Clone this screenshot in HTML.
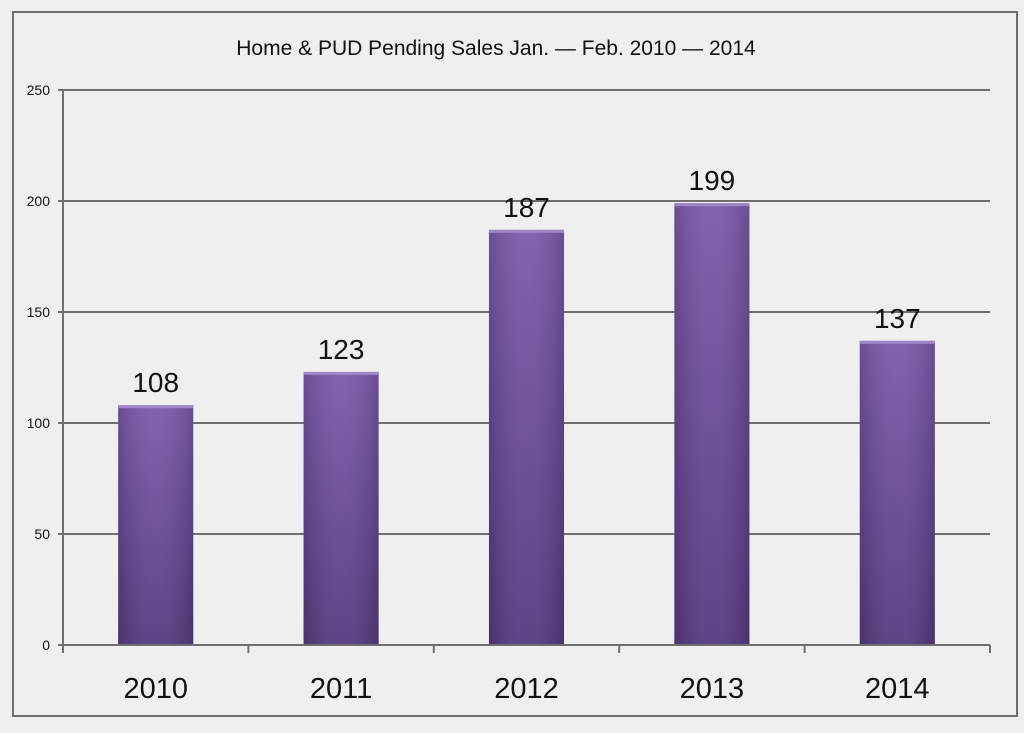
<!DOCTYPE html>
<html><head><meta charset="utf-8"><style>
html,body{margin:0;padding:0;background:#efefef;}
svg{display:block;font-family:"Liberation Sans",sans-serif;}
</style></head><body>
<svg width="1024" height="733" viewBox="0 0 1024 733">
<defs>
<linearGradient id="bg" x1="0" y1="0" x2="0" y2="1">
<stop offset="0" stop-color="#7b5aab"/><stop offset="1" stop-color="#553a7f"/>
</linearGradient>
<linearGradient id="bh" x1="0" y1="0" x2="1" y2="0">
<stop offset="0" stop-color="#000" stop-opacity="0.15"/><stop offset="0.5" stop-color="#fff" stop-opacity="0.05"/><stop offset="1" stop-color="#000" stop-opacity="0.15"/>
</linearGradient>
</defs>
<rect x="13" y="12" width="1004" height="704" fill="#efefef" stroke="#6f6f6f" stroke-width="2"/>
<text x="496" y="55" text-anchor="middle" font-size="21" fill="#111">Home &amp; PUD Pending Sales Jan. — Feb.  2010 — 2014</text>
<g id="grid"></g><g id="bars"></g><g id="axes"></g>
<script>
const categories=["2010","2011","2012","2013","2014"];
const values=[108,123,187,199,137];
const ticks=[0,50,100,150,200,250];
const L=63,R=990,T=90,B=645,maxV=250;
const y=v=>B-(v/maxV)*(B-T);
const cw=(R-L)/categories.length;
const xc=i=>L+cw*(i+0.5);
const NS="http://www.w3.org/2000/svg";
function mk(tag,attrs,parent){const e=document.createElementNS(NS,tag);for(const k in attrs)e.setAttribute(k,attrs[k]);parent.appendChild(e);return e;}
const grid=document.getElementById('grid'),bars=document.getElementById('bars'),axes=document.getElementById('axes');
ticks.forEach(t=>{
  if(t>0){const g=mk('line',{x1:L,x2:R,y1:y(t),y2:y(t),stroke:'#6f6f6f','stroke-width':2},grid);
  
  }
  const tk=mk('line',{x1:L-5,x2:L,y1:y(t),y2:y(t),stroke:'#6f6f6f','stroke-width':2},axes);
  
  
  const lb=mk('text',{x:L-13,y:y(t)+5,'text-anchor':'end','font-size':14,fill:'#111'},axes);
  lb.textContent=t;
  
  
});
const bw=cw*0.405;
categories.forEach((c,i)=>{
  const x=xc(i)-bw/2,h=B-y(values[i]);
  const r=mk('rect',{x:x,y:y(values[i]),width:bw,height:h,fill:'url(#bg)'},bars);
  
  
  const s=mk('rect',{x:x,y:y(values[i]),width:bw,height:h,fill:'url(#bh)'},bars);
  
  
  const cap=mk('rect',{x:x,y:y(values[i]),width:bw,height:3,fill:'#9f86c6'},bars);
  
  
  const v=mk('text',{x:xc(i),y:y(values[i])-13,'text-anchor':'middle','font-size':28,fill:'#111'},bars);
  v.textContent=values[i];
  
  
  const cl=mk('text',{x:xc(i),y:698,'text-anchor':'middle','font-size':29,fill:'#111'},axes);
  cl.textContent=c;
  
  
});
for(let i=0;i<=categories.length;i++){
  const t=mk('line',{x1:L+cw*i,x2:L+cw*i,y1:B,y2:B+8,stroke:'#6f6f6f','stroke-width':2},axes);
  
  
}
const ya=mk('line',{x1:L,x2:L,y1:T,y2:B,stroke:'#6f6f6f','stroke-width':2},axes);


const xa=mk('line',{x1:L,x2:R,y1:B,y2:B,stroke:'#6f6f6f','stroke-width':2},axes);


</script>
</svg>
</body></html>
